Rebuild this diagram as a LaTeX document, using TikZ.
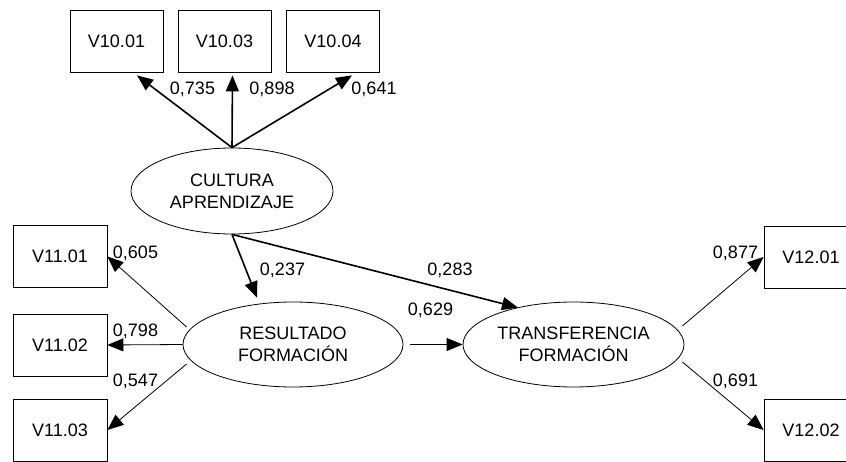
\documentclass[tikz,border=0pt]{standalone}
\usepackage{fontspec}
\setmainfont{Liberation Sans}
\usetikzlibrary{shapes.geometric,arrows.meta,calc}
\tikzset{
  obsbox/.style={draw=black, line width=0.8pt, minimum width=93pt, minimum height=62pt, inner sep=0pt, font=\fontsize{18}{22}\selectfont},
  latent/.style={draw=black, ellipse, line width=0.8pt, inner sep=0pt, align=center, font=\fontsize{18}{22}\selectfont},
  lbl/.style={anchor=base, inner sep=0pt, font=\fontsize{18}{22}\selectfont},
  thickarr/.style={line width=1.6pt, -{Triangle[length=16pt,width=13pt]}},
  thinarr/.style={line width=0.8pt, -{Triangle[length=16pt,width=13pt]}}
}
\begin{document}
\begin{tikzpicture}[x=1pt,y=-1pt]
\useasboundingbox (0,0) rectangle (846,462);
% observed boxes
\node[obsbox] (v1001) at (116.5,41) {V10.01};
\node[obsbox] (v1003) at (224.5,41) {V10.03};
\node[obsbox] (v1004) at (333,41) {V10.04};
\node[obsbox, minimum width=94pt] (v1101) at (60,256.5) {V11.01};
\node[obsbox, minimum width=94pt] (v1102) at (60,345) {V11.02};
\node[obsbox, minimum width=94pt] (v1103) at (60,430) {V11.03};
\node[obsbox, minimum width=94pt] (v1201) at (811,257) {V12.01};
\node[obsbox, minimum width=94pt] (v1202) at (811,430) {V12.02};
% latent ellipses
\node[latent, minimum width=202pt, minimum height=86pt] (cult) at (232,191) {CULTURA\\APRENDIZAJE};
\node[latent, minimum width=220pt, minimum height=85pt] (res) at (293,344.5) {RESULTADO\\FORMACIÓN};
\node[latent, minimum width=221pt, minimum height=85pt] (tra) at (573.5,344.5) {TRANSFERENCIA\\FORMACIÓN};
% connectors
\draw[thickarr] (cult.north) -- ($(v1001.south)+(20.5,3)$);
\draw[thickarr] (cult.north) -- ($(v1003.south)+(8,3)$);
\draw[thickarr] (cult.north) -- ($(v1004.south)+(19,3)$);
\draw[thickarr] (cult.south) -- ($(res.north)+(-36,-4)$);
\draw[thickarr] (cult.south) -- ($(tra.north)+(-55.5,6)$);
\draw[thinarr] ($(res.west)+(4,-17.5)$) -- (v1101.east);
\draw[thinarr] (res.west) -- (v1102.east);
\draw[thinarr] ($(res.west)+(4,19.5)$) -- (v1103.east);
\draw[thinarr] ($(res.east)+(7,0)$) -- (tra.west);
\draw[thinarr] ($(tra.east)+(-2,-18.5)$) -- (v1201.west);
\draw[thinarr] ($(tra.east)+(-2,17.5)$) -- (v1202.west);
% labels
\node[lbl] (l735) at (192.5,95) {0,735};
\node[lbl] (l898) at (272,95) {0,898};
\node[lbl] (l641) at (374,95) {0,641};
\node[lbl] (l237) at (282.5,276) {0,237};
\node[lbl] (l283) at (450,276) {0,283};
\node[lbl] (l605) at (135.5,259) {0,605};
\node[lbl] (l798) at (135.5,336) {0,798};
\node[lbl] (l547) at (135.5,386) {0,547};
\node[lbl] (l629) at (430.5,316) {0,629};
\node[lbl] (l877) at (735.5,259) {0,877};
\node[lbl] (l691) at (735.5,386) {0,691};
\end{tikzpicture}
\end{document}
